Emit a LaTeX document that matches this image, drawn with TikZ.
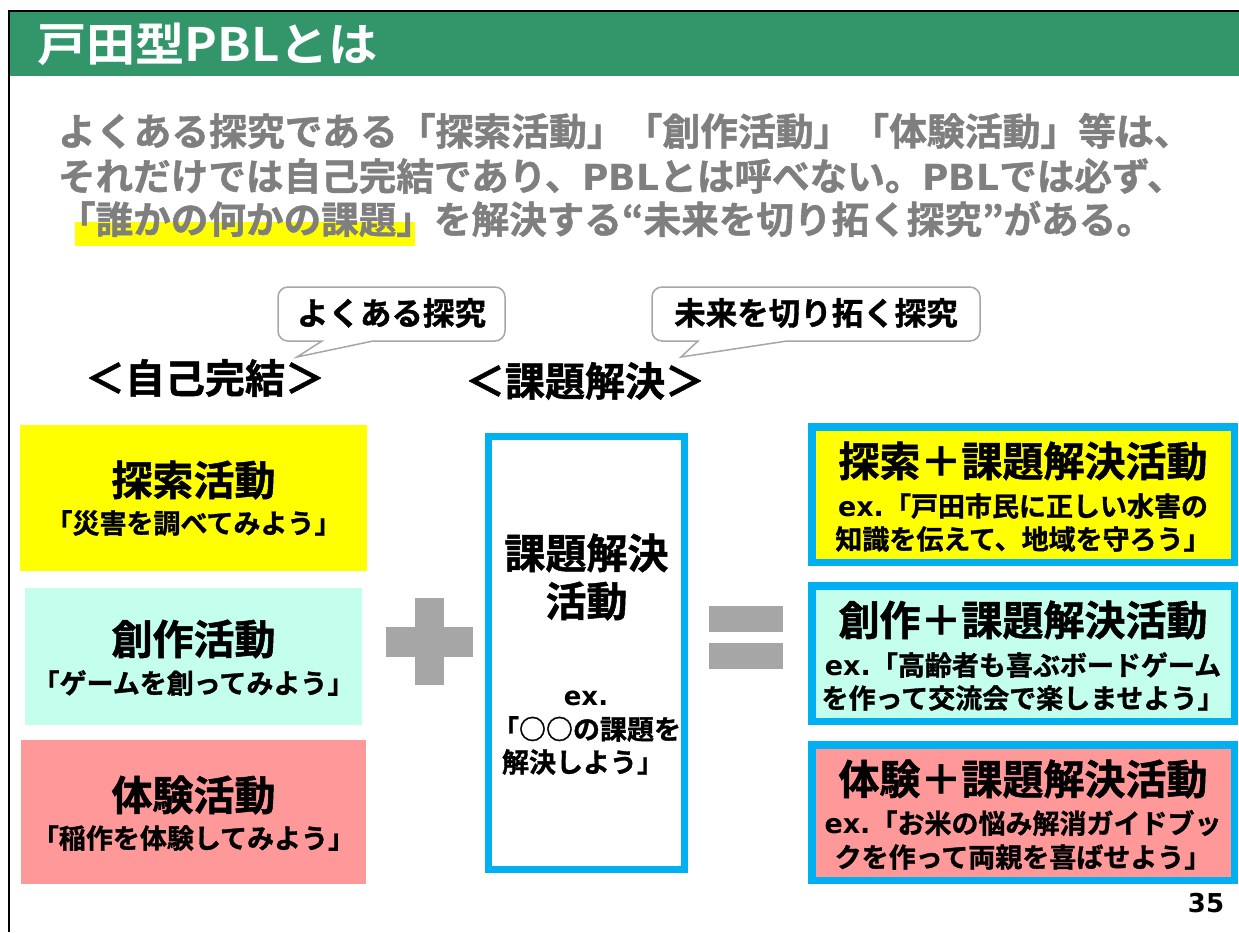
\documentclass[tikz,border=0pt]{standalone}
\usepackage{fontspec}
\newfontfamily\jp{Noto Sans CJK JP Bold}[FakeBold=1.2]
\newfontfamily\jptitle{Noto Sans CJK JP Bold}
\newfontfamily\lat{DejaVu Sans Bold}
\newcommand\fsz[1]{\fontsize{#1pt}{#1pt}\selectfont}
\definecolor{bargreen}{HTML}{33956A}
\definecolor{bodygray}{HTML}{7F7F7F}
\definecolor{hlyellow}{HTML}{FFFF00}
\definecolor{pyellow}{HTML}{FFFF00}
\definecolor{pmint}{HTML}{C4FFEE}
\definecolor{ppink}{HTML}{FF9999}
\definecolor{bluec}{HTML}{00B0F0}
\definecolor{symgray}{HTML}{A6A6A6}
\definecolor{calloutgray}{HTML}{A6A6A6}
\begin{document}
\begin{tikzpicture}[x=1pt,y=-1pt,
  t/.style={inner sep=0pt,outer sep=0pt,font=\jp},
  panel/.style={inner sep=0pt,outer sep=0pt,draw=none},
  bluepanel/.style={inner sep=0pt,outer sep=0pt,draw=bluec,line width=7.5pt},
  callout/.style={draw=calloutgray,line width=1.5pt,fill=white},
  sym/.style={fill=symgray}]
\useasboundingbox (0,0) rectangle (1239,932);
\fill[white] (0,0) rectangle (1239,932);
% frame and title bar
\fill[bargreen] (10,12) rectangle (1239,76);
\draw[line width=2pt] (9,932) -- (9,11) -- (1239,11);
\node[t,font=\jptitle,anchor=west,text=white,xscale=1.07] (title) at (37,44) {\fsz{46}戸田型PBLとは};
% highlight and body text
\node[panel,fill=hlyellow,anchor=north west,minimum width=340pt,minimum height=24pt] (hl) at (75,222) {};
\node[t,anchor=west,text=bodygray] (l1) at (58,131) {\fsz{37.8}よくある探究である「探索活動」「創作活動」「体験活動」等は、};
\node[t,anchor=west,text=bodygray] (l2) at (58,176) {\fsz{37.6}それだけでは自己完結であり、{\lat\fsz{36}PBL}とは呼べない。{\lat\fsz{36}PBL}では必ず、};
\node[t,anchor=west,text=bodygray] (l3) at (58,219) {\fsz{37.6}「誰かの何かの課題」を解決する“未来を切り拓く探究”がある。};
% callouts
\draw[callout] (373,341) [rounded corners=10pt] -- (505,341) -- (505,287) -- (278,287) -- (278,341) [sharp corners] -- (322,341) -- (297,357) -- cycle;
\node[t] (c1) at (391.5,313) {\fsz{31.5}よくある探究};
\draw[callout] (787,341) [rounded corners=10pt] -- (980,341) -- (980,287) -- (652,287) -- (652,341) [sharp corners] -- (698,341) -- (681,357) -- cycle;
\node[t] (c2) at (816,313) {\fsz{31.5}未来を切り拓く探究};
% headings
\node[t] (jiko) at (205,378) {\fsz{40}＜自己完結＞};
\node[t] (kadai) at (585,381) {\fsz{40}＜課題解決＞};
% left panels
\node[panel,fill=pyellow,minimum width=347pt,minimum height=146pt] (lb1) at (193.5,498) {};
\node[t] (lb1a) at (193.5,480) {\fsz{41}探索活動};
\node[t] (lb1b) at (193.5,523) {\fsz{27}「災害を調べてみよう」};
\node[panel,fill=pmint,minimum width=337pt,minimum height=137pt] (lb2) at (193.5,656.5) {};
\node[t] (lb2a) at (193.5,639) {\fsz{41}創作活動};
\node[t] (lb2b) at (193.5,683) {\fsz{27}「ゲームを創ってみよう」};
\node[panel,fill=ppink,minimum width=345pt,minimum height=144pt] (lb3) at (193.5,812) {};
\node[t] (lb3a) at (193.5,795) {\fsz{41}体験活動};
\node[t] (lb3b) at (193.5,838) {\fsz{27}「稲作を体験してみよう」};
% plus
\fill[sym] (415,598) rectangle (444,685);
\fill[sym] (386,627) rectangle (473,657);
% middle panel
\node[bluepanel,fill=white,line width=7pt,minimum width=196pt,minimum height=433pt] (mid) at (586.5,653) {};
\node[t] (mida) at (586.5,553) {\fsz{41}課題解決};
\node[t] (midb) at (586.5,601) {\fsz{41}活動};
\node[t,anchor=base] (midc) at (586,705) {\lat\fsz{26}ex.};
\node[t,anchor=west] (midd) at (492,729) {\fsz{27}「○○の課題を};
\node[t,anchor=west] (mide) at (502,762) {\fsz{27}解決しよう」};
% equals
\fill[sym] (709,606) rectangle (783,632);
\fill[sym] (709,643) rectangle (783,669);
% right panels
\node[bluepanel,fill=pyellow,minimum width=422.5pt,minimum height=135.5pt] (rb1) at (1023,494.5) {};
\node[t] (rb1a) at (1023,461) {\fsz{41}探索＋課題解決活動};
\node[t] (rb1b) at (1023,506) {\fsz{27}{\lat ex.}「戸田市民に正しい水害の};
\node[t] (rb1c) at (1023,539) {\fsz{27}知識を伝えて、地域を守ろう」};
\node[bluepanel,fill=pmint,minimum width=422.5pt,minimum height=135.5pt] (rb2) at (1023,653.5) {};
\node[t] (rb2a) at (1023,620) {\fsz{41}創作＋課題解決活動};
\node[t] (rb2b) at (1023,665) {\fsz{27}{\lat ex.}「高齢者も喜ぶボードゲーム};
\node[t] (rb2c) at (1023,698) {\fsz{27}を作って交流会で楽しませよう」};
\node[bluepanel,fill=ppink,minimum width=422.5pt,minimum height=135.5pt] (rb3) at (1023,812.5) {};
\node[t] (rb3a) at (1023,779) {\fsz{41}体験＋課題解決活動};
\node[t] (rb3b) at (1023,823) {\fsz{27}{\lat ex.}「お米の悩み解消ガイドブッ};
\node[t] (rb3c) at (1023,857) {\fsz{27}クを作って両親を喜ばせよう」};
% page number
\node[t] (pg) at (1206,903) {\lat\fsz{26}35};
\end{tikzpicture}
\end{document}
